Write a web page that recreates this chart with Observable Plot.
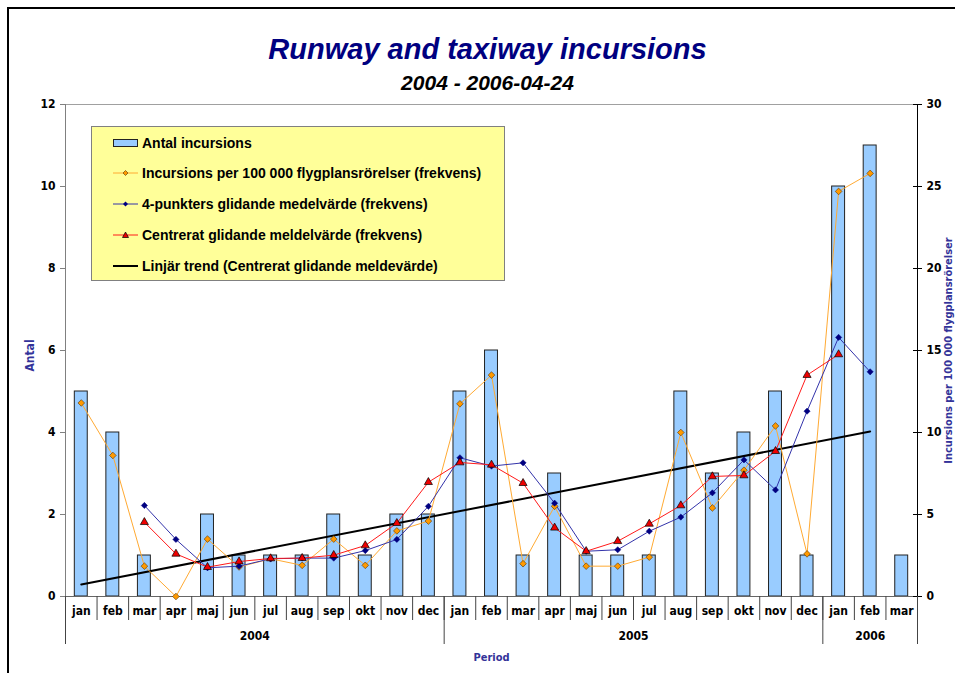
<!DOCTYPE html>
<html><head><meta charset="utf-8">
<script src="https://cdn.jsdelivr.net/npm/d3@7"></script>
<script src="https://cdn.jsdelivr.net/npm/@observablehq/plot@0.6"></script>
<style>
html,body{margin:0;padding:0;background:#fff;overflow:hidden}
#wrap{position:relative;width:955px;height:673px;overflow:hidden}
#frame{position:absolute;left:7px;top:7px;width:1000px;height:1000px;border-left:2px solid #000;border-top:2px solid #000;pointer-events:none}
#chart{position:absolute;left:0;top:0}
.title{position:absolute;left:0;width:975px;text-align:center;font-family:"Liberation Sans",Arial,sans-serif;font-style:italic;font-weight:bold;white-space:nowrap}
#t1{top:32px;font-size:29px;line-height:34px;color:#000080}
#t2{top:71px;font-size:21px;line-height:24px;color:#000}
#legend{position:absolute;left:91px;top:126px;width:412px;height:153px;background:#ffff99;border:1px solid #808080;font-family:"Liberation Sans",Arial,sans-serif;font-weight:bold;font-size:14px}
.row{position:absolute;left:0;height:20px;line-height:20px;white-space:nowrap}
.row svg{position:absolute;left:21px;top:0}
.row span{position:absolute;left:50px;top:0}
</style></head>
<body>
<div id="wrap">
  <div id="chart"></div>
  <div class="title" id="t1">Runway and taxiway incursions</div>
  <div class="title" id="t2">2004 - 2006-04-24</div>
  <div id="legend"></div>
  <div id="frame"></div>
</div>
<script>
// ---- data ----
const monthLabels = ["jan","feb","mar","apr","maj","jun","jul","aug","sep","okt","nov","dec",
                     "jan","feb","mar","apr","maj","jun","jul","aug","sep","okt","nov","dec",
                     "jan","feb","mar"];
const yearLabels = ["2004","2005","2006"];
const monthsPerYear = [12,12,3];
const antal = [5,4,1,0,2,1,1,1,2,1,2,2, 5,6,1,3,1,1,1,5,3,4,5,1, 10,11,1];
const frekvens = [11.8,8.6,1.85,0,3.5,1.8,2.3,1.9,3.5,1.9,4.0,4.6,
                  11.75,13.5,2.0,5.5,1.85,1.85,2.4,10.0,5.4,7.7,10.4,2.6,
                  24.7,25.8,null];
const medel4 = [null,null,5.55,3.48,1.75,1.85,2.3,2.34,2.34,2.8,3.48,5.5,
                8.46,7.95,8.15,5.69,2.76,2.85,3.98,4.84,6.32,8.33,6.5,11.3,
                15.8,13.7,null];
const centrerat = [null,null,4.53,2.6,1.79,2.13,2.32,2.34,2.52,3.11,4.47,6.97,
                   8.17,8.03,6.91,4.19,2.76,3.37,4.43,5.55,7.32,7.38,8.86,13.5,
                   14.76,null,null];
const trendStart = {month: 0, value: 0.73};   // jan 2004
const trendEnd = {month: 25, value: 10.06};   // feb 2006
const leftTicks = [0,2,4,6,8,10,12];
const rightTicks = [0,5,10,15,20,25,30];
const legendItems = [
  {label:"Antal incursions", kind:"bar"},
  {label:"Incursions per 100 000 flygplansrörelser (frekvens)", kind:"orange"},
  {label:"4-punkters glidande medelvärde (frekvens)", kind:"blue"},
  {label:"Centrerat glidande meldelvärde (frekvens)", kind:"red"},
  {label:"Linjär trend (Centrerat glidande meldevärde)", kind:"trend"}
];

// ---- derived ----
const n = monthLabels.length;
const rows = d3.range(n).map(i => ({i, antal: antal[i], frek: frekvens[i], m4: medel4[i], cen: centrerat[i]}));
const K = 12 / 30; // right-axis units onto left-axis scale
const bounds = d3.range(n + 1).map(k => k - 0.5);
let acc = 0;
const yearBounds = [-0.5], yearCenters = [];
monthsPerYear.forEach(m => { yearCenters.push(acc + (m - 1) / 2); acc += m; yearBounds.push(acc - 0.5); });
const yearAt = new Map(yearCenters.map((c, k) => [c, yearLabels[k]]));
const rightTicksK = rightTicks.map(v => v * K);

const C = {bar:"#99ccff", orange:"#ffaa33", orangeDot:"#ff9900", blue:"#000080", red:"#ff1a1a"};
const narrow = "'Liberation Sans Narrow','Arial Narrow','DejaVu Sans Condensed',sans-serif";
const blank = () => "";

const chart = Plot.plot({
  width: 955, height: 673,
  marginLeft: 65, marginRight: 38, marginTop: 104, marginBottom: 77,
  style: {fontFamily: narrow, fontSize: "12px", fontWeight: "bold", background: "transparent", overflow: "visible", color: "#000"},
  x: {domain: [-0.5, n - 0.5], axis: null},
  y: {domain: [0, 12], axis: null},
  marks: [
    // frame lines
    Plot.ruleY([12], {stroke: "#a0a0a0"}),
    Plot.ruleX([-0.5], {stroke: "#808080"}),
    Plot.ruleX([n - 0.5], {stroke: "#000"}),
    // bars
    Plot.rect(rows.filter(d => d.antal > 0), {x1: d => d.i - 0.205, x2: d => d.i + 0.205, y1: 0, y2: "antal",
      fill: C.bar, stroke: "#222", strokeWidth: 1}),
    Plot.ruleY([0], {stroke: "#666"}),
    // trend
    Plot.line([trendStart, trendEnd], {x: "month", y: d => d.value * K, stroke: "#000", strokeWidth: 2}),
    // series lines
    Plot.line(rows.filter(d => d.frek != null), {x: "i", y: d => d.frek * K, stroke: C.orange, strokeWidth: 1}),
    Plot.line(rows.filter(d => d.m4 != null), {x: "i", y: d => d.m4 * K, stroke: "#3333aa", strokeWidth: 1}),
    Plot.line(rows.filter(d => d.cen != null), {x: "i", y: d => d.cen * K, stroke: C.red, strokeWidth: 1}),
    Plot.dot(rows.filter(d => d.frek != null), {x: "i", y: d => d.frek * K, symbol: "diamond2", r: 3, fill: C.orangeDot, stroke: "#553300", strokeWidth: 0.6}),
    Plot.dot(rows.filter(d => d.m4 != null), {x: "i", y: d => d.m4 * K, symbol: "diamond2", r: 2.8, fill: C.blue, stroke: C.blue, strokeWidth: 0.5}),
    Plot.dot(rows.filter(d => d.cen != null), {x: "i", y: d => d.cen * K, symbol: "triangle", r: 3, fill: "#ee0000", stroke: "#000", strokeWidth: 0.7}),
    // left axis
    Plot.axisY({anchor: "left", ticks: leftTicks, tickSize: 5, tickFormat: blank, color: "#808080", label: null}),
    Plot.axisY({anchor: "left", ticks: leftTicks, tickSize: 0, tickPadding: 10, tickFormat: d => d, color: "#000", label: null}),
    // right axis
    Plot.axisY({anchor: "right", ticks: rightTicksK, tickSize: 4, tickFormat: blank, color: "#000", label: null}),
    Plot.ruleY(rightTicks, {y: v => v * K, x1: n - 0.5, x2: n - 0.5, insetLeft: -4, stroke: "#000"}),
    Plot.axisY({anchor: "right", ticks: rightTicksK, tickSize: 0, tickPadding: 9, tickFormat: v => Math.round(v / K), color: "#000", label: null}),
    // x axis: month separators, labels, year separators, labels
    Plot.axisX({anchor: "bottom", ticks: bounds, tickSize: 24, tickFormat: blank, color: "#444", label: null}),
    Plot.axisX({anchor: "bottom", ticks: d3.range(n), tickSize: 0, tickPadding: 10, tickFormat: i => monthLabels[i], color: "#000", label: null}),
    Plot.axisX({anchor: "bottom", ticks: yearBounds, tickSize: 48, tickFormat: blank, color: "#444", label: null}),
    Plot.axisX({anchor: "bottom", ticks: yearCenters, tickSize: 0, tickPadding: 35, tickFormat: c => yearAt.get(c), color: "#000", label: null}),
    // axis titles
    Plot.text(["Antal"], {frameAnchor: "left", dx: -35, dy: 5, rotate: -90, textAnchor: "middle", lineAnchor: "middle", fill: "#333399", fontSize: 12}),
    Plot.text(["Incursions per 100 000 flygplansrörelser"], {frameAnchor: "right", dx: 31, rotate: -90, textAnchor: "middle", lineAnchor: "middle", fill: "#333399", fontSize: 11}),
    Plot.text(["Period"], {frameAnchor: "bottom", dy: 61, textAnchor: "middle", lineAnchor: "middle", fill: "#333399", fontSize: 11})
  ]
});
document.getElementById("chart").appendChild(chart);

// legend (HTML key)
const legend = document.getElementById("legend");
const rowTops = [6, 36, 67, 98, 129];
legendItems.forEach((it, k) => {
  const row = document.createElement("div");
  row.className = "row";
  row.style.top = rowTops[k] + "px";
  let sym = "";
  if (it.kind === "bar") sym = `<rect x="0.5" y="6.5" width="24" height="7" fill="${C.bar}" stroke="#222"/>`;
  else if (it.kind === "orange") sym = `<line x1="0" x2="25" y1="10" y2="10" stroke="${C.orange}"/><path d="M12.5,7.5L15,10L12.5,12.5L10,10Z" fill="${C.orangeDot}" stroke="#553300" stroke-width="0.6"/>`;
  else if (it.kind === "blue") sym = `<line x1="0" x2="25" y1="10" y2="10" stroke="#3333aa"/><path d="M12.5,7.5L15,10L12.5,12.5L10,10Z" fill="${C.blue}"/>`;
  else if (it.kind === "red") sym = `<line x1="0" x2="25" y1="10" y2="10" stroke="${C.red}"/><path d="M12.5,7L15.5,12.5L9.5,12.5Z" fill="#ee0000" stroke="#000" stroke-width="0.7"/>`;
  else sym = `<line x1="0" x2="25" y1="10" y2="10" stroke="#000" stroke-width="2"/>`;
  row.innerHTML = `<svg width="26" height="20">${sym}</svg><span>${it.label}</span>`;
  legend.appendChild(row);
});
</script>
</body></html>
